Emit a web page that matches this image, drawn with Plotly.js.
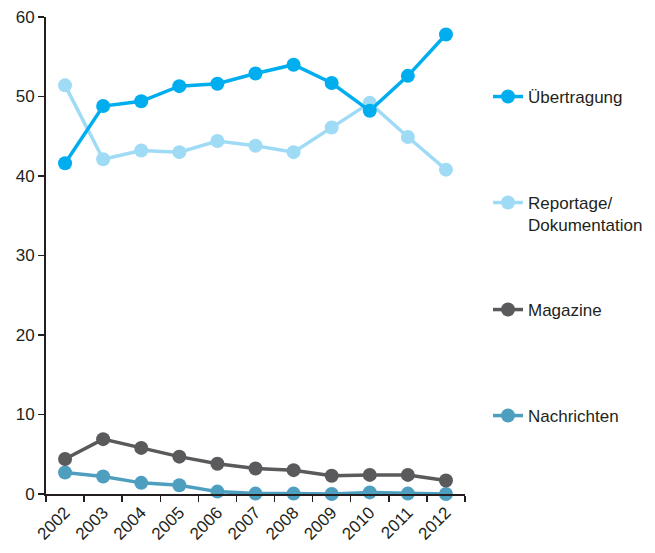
<!DOCTYPE html>
<html>
<head>
<meta charset="utf-8">
<script src="https://cdn.plot.ly/plotly-3.0.1.min.js"></script>
<style>html,body{margin:0;padding:0;background:#fff;}#chart{width:655px;height:553px;}</style>
</head>
<body>
<div id="chart"></div>
<script>
const years = ["2002","2003","2004","2005","2006","2007","2008","2009","2010","2011","2012"];
const uebertragung = [41.6, 48.8, 49.4, 51.3, 51.6, 52.9, 54.0, 51.7, 48.2, 52.6, 57.8];
const reportage = [51.4, 42.1, 43.2, 43.0, 44.4, 43.8, 43.0, 46.1, 49.2, 44.9, 40.8];
const magazine = [4.4, 6.9, 5.8, 4.7, 3.8, 3.2, 3.0, 2.3, 2.4, 2.4, 1.7];
const nachrichten = [2.7, 2.2, 1.4, 1.1, 0.3, 0.05, 0.05, 0.0, 0.2, 0.05, 0.0];
const seriesNames = ["Übertragung", "Reportage/<br>Dokumentation", "Magazine", "Nachrichten"];
const seriesColors = ["#00aeef", "#a0dbf6", "#5a5a5c", "#4e9fbf"];

const FONT = "Liberation Sans, Arial, sans-serif";
const data = [uebertragung, reportage, magazine, nachrichten].map((vals, i) => ({
  type: "scatter",
  mode: "lines+markers",
  x: years,
  y: vals,
  name: seriesNames[i],
  legend: i === 0 ? "legend" : "legend" + (i + 1),
  line: {color: seriesColors[i], width: 3.5},
  marker: {color: seriesColors[i], size: 14},
  cliponaxis: false
}));
// draw order: light blue over dark blue at crossing near 2010
data.reverse();

const legendBase = {
  xref: "container", yref: "container",
  xanchor: "left",
  font: {family: FONT, size: 17, color: "#231f20"},
  bgcolor: "rgba(0,0,0,0)",
  valign: "top",
  itemclick: false, itemdoubleclick: false
};
const legendY = [96, 202, 309, 415];
function mkLegend(py) {
  return Object.assign({}, legendBase, {x: 488 / 655, y: 1 - (py - 17) / 553, yanchor: "top"});
}

const layout = {
  width: 655, height: 553,
  margin: {l: 46, r: 190, t: 17, b: 59, pad: 0},
  paper_bgcolor: "#fff", plot_bgcolor: "#fff",
  font: {family: FONT, size: 17, color: "#231f20"},
  showlegend: true,
  legend: mkLegend(legendY[0]),
  legend2: mkLegend(legendY[1]),
  legend3: mkLegend(legendY[2]),
  legend4: mkLegend(legendY[3]),
  xaxis: {
    type: "category",
    range: [-0.5, 10.5],
    showgrid: false, zeroline: false,
    showline: true, linecolor: "#231f20", linewidth: 2,
    ticks: "outside", tickson: "boundaries", ticklen: 6, tickwidth: 1.5, tickcolor: "#231f20",
    tickangle: -45,
    tickfont: {family: FONT, size: 17, color: "#231f20"},
    fixedrange: true
  },
  yaxis: {
    range: [0, 60],
    tickvals: [0, 10, 20, 30, 40, 50, 60],
    showgrid: false, zeroline: false,
    showline: true, linecolor: "#231f20", linewidth: 2,
    ticks: "outside", ticklen: 6, tickwidth: 1.5, tickcolor: "#231f20",
    tickfont: {family: FONT, size: 17, color: "#231f20"},
    fixedrange: true
  }
};
Plotly.newPlot("chart", data, layout, {displayModeBar: false, staticPlot: true});
</script>
</body>
</html>
